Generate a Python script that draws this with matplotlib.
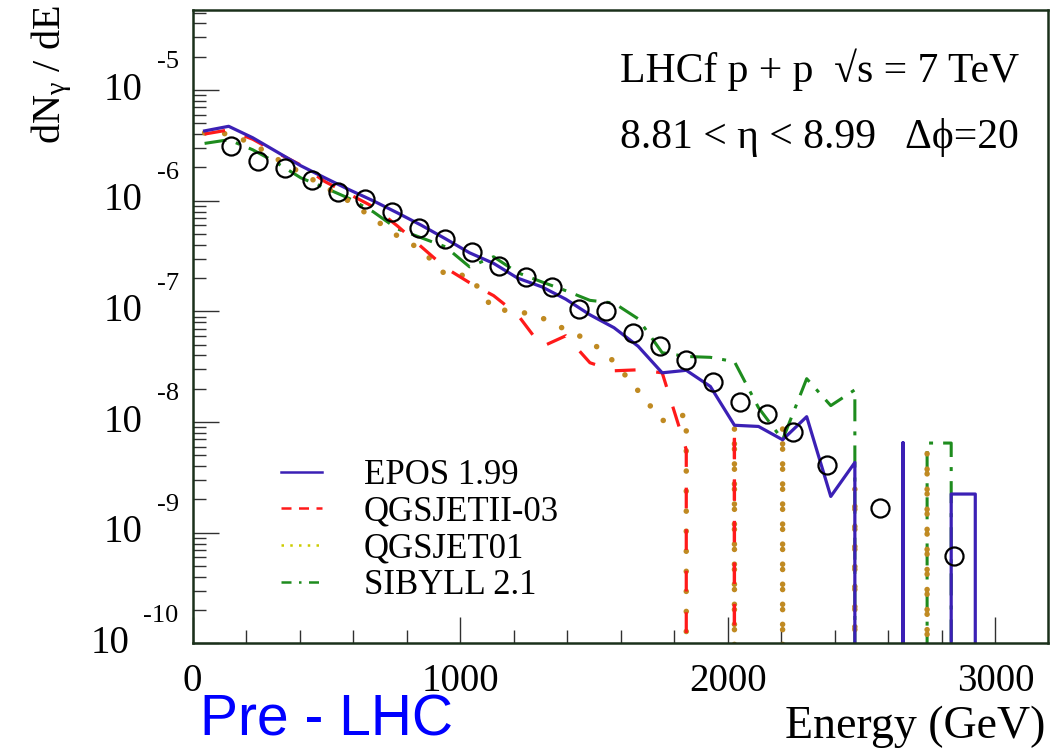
import numpy as np
import matplotlib
matplotlib.use("Agg")
import matplotlib.pyplot as plt
from matplotlib.lines import Line2D
from matplotlib.ticker import LogLocator, NullFormatter, MultipleLocator

plt.rcParams['font.family'] = ['Liberation Serif', 'DejaVu Serif']
plt.rcParams['mathtext.fontset'] = 'custom'
plt.rcParams['mathtext.rm'] = 'Liberation Serif'
plt.rcParams['mathtext.it'] = 'Liberation Serif:italic'

# LHCf measurement (open circles)
data_energy = [145, 245, 345, 445, 545, 645, 745, 845, 945, 1045, 1145, 1245,
               1345, 1445, 1545, 1645, 1745, 1845, 1945, 2045, 2145, 2245,
               2370, 2570, 2845]
data_dnde = [3.10e-6, 2.31e-6, 1.97e-6, 1.55e-6, 1.19e-6, 1.04e-6, 7.91e-7,
             5.70e-7, 4.51e-7, 3.48e-7, 2.55e-7, 2.03e-7, 1.68e-7, 1.06e-7,
             1.00e-7, 6.38e-8, 4.83e-8, 3.66e-8, 2.29e-8, 1.52e-8, 1.18e-8,
             8.07e-9, 4.06e-9, 1.67e-9, 6.21e-10]

# model predictions, bin centres (0 = empty bin)
model_energy = [45, 135, 225, 315, 405, 495, 585, 675, 765, 855, 945, 1035,
                1125, 1215, 1305, 1395, 1485, 1575, 1665, 1755, 1845, 1935,
                2025, 2115, 2205, 2295, 2385, 2475, 2565, 2655, 2745, 2835,
                2925, 3015]
epos = [4.28e-6, 4.71e-6, 3.71e-6, 2.77e-6, 2.07e-6, 1.61e-6, 1.26e-6, 1.0e-6,
        7.79e-7, 6.01e-7, 4.54e-7, 3.39e-7, 2.72e-7, 2.0e-7, 1.67e-7, 1.29e-7,
        9.33e-8, 7.13e-8, 4.85e-8, 2.79e-8, 2.94e-8, 2.10e-8, 9.37e-9, 9.14e-9,
        6.93e-9, 1.12e-8, 2.13e-9, 4.32e-9, 0, 6.52e-9, 0, 2.24e-9, 2.24e-9, 0]
qgsjet2 = [4.01e-6, 4.37e-6, 3.60e-6, 2.72e-6, 2.10e-6, 1.49e-6, 1.15e-6,
           8.83e-7, 5.94e-7, 3.84e-7, 2.48e-7, 1.82e-7, 1.39e-7, 9.33e-8,
           4.80e-8, 6.03e-8, 3.44e-8, 2.91e-8, 2.97e-8, 2.79e-8, 5.63e-9, 0,
           8.89e-9, 0, 0, 0, 0, 0, 0, 0, 0, 0, 0, 0]
qgsjet01 = [4.11e-6, 4.03e-6, 3.27e-6, 2.39e-6, 1.79e-6, 1.34e-6, 9.9e-7,
            6.95e-7, 4.83e-7, 3.61e-7, 2.15e-7, 2.11e-7, 1.04e-7, 1.01e-7,
            8.77e-8, 6.84e-8, 5.43e-8, 3.52e-8, 1.92e-8, 1.03e-8, 1.17e-8, 0,
            9.14e-9, 0, 9.14e-9, 0, 0, 2.55e-9, 0, 0, 5.43e-9, 0, 0, 0]
sibyll = [3.30e-6, 3.56e-6, 2.89e-6, 2.20e-6, 1.61e-6, 1.31e-6, 1.05e-6,
          7.96e-7, 5.58e-7, 4.63e-7, 3.84e-7, 2.53e-7, 3.12e-7, 2.24e-7,
          1.85e-7, 1.54e-7, 1.26e-7, 1.19e-7, 8.59e-8, 4.24e-8, 3.92e-8,
          3.85e-8, 3.52e-8, 1.35e-8, 6.93e-9, 2.47e-8, 1.41e-8, 1.96e-8, 0, 0,
          6.47e-9, 6.47e-9, 0, 0]

model_names = ['EPOS 1.99', 'QGSJETII-03', 'QGSJET01', 'SIBYLL 2.1']
x_ticks = [0, 1000, 2000, 3000]
y_exponents = [-5, -6, -7, -8, -9, -10]

blue = '#3b20b5'
red = '#ff1a1a'
gold = '#c08a22'
green = '#1e8c1e'
frame = '#1a301a'

YMIN, YMAX = 1e-10, 5.3e-5


def with_drops(x, y, floor=1e-12):
    # empty bins -> line falls straight down to the bottom of the frame
    xs, ys = [], []
    n = len(x)
    for i in range(n):
        if y[i] <= 0:
            continue
        if i > 0 and y[i - 1] <= 0:
            xs.append(x[i]); ys.append(floor)
        xs.append(x[i]); ys.append(y[i])
        if i < n - 1 and y[i + 1] <= 0:
            xs.append(x[i]); ys.append(floor)
            xs.append(np.nan); ys.append(np.nan)
    return xs, ys


fig = plt.figure(figsize=(10.51, 7.49), dpi=100)
ax = fig.add_axes([0.1832, 0.1409, 0.8135, 0.8458])

x, y = with_drops(model_energy, sibyll)
ax.plot(x, y, color=green, lw=2.2, dashes=(7.2, 3.3, 1.3, 3.3))
x, y = with_drops(model_energy, qgsjet01)
ax.plot(x, y, color=gold, lw=4.0, dashes=(0.01, 3.6), dash_capstyle='round')
x, y = with_drops(model_energy, qgsjet2)
ax.plot(x, y, color=red, lw=2.3, dashes=(6.5, 6.5))
x, y = with_drops(model_energy, epos)
ax.plot(x, y, color=blue, lw=2.3)

ax.plot(data_energy, data_dnde, 'o', ms=13, mfc='none', mec='black', mew=1.6,
        zorder=5)

ax.set_yscale('log')
ax.set_xlim(0, 3195)
ax.set_ylim(YMIN, YMAX)

ax.set_xticks(x_ticks)
ax.set_xticklabels([str(v) for v in x_ticks], fontsize=28)
ax.xaxis.set_minor_locator(MultipleLocator(200))
ax.yaxis.set_major_locator(LogLocator(base=10, numticks=20))
ax.yaxis.set_minor_locator(LogLocator(base=10, subs=np.arange(2, 10), numticks=100))
ax.yaxis.set_minor_formatter(NullFormatter())
ax.set_yticklabels([])
ax.tick_params(which='both', direction='in', top=False, right=False,
               color='#303030', width=1.0)
ax.tick_params(which='major', length=19)
ax.tick_params(which='minor', length=9.5)
ax.tick_params(axis='x', pad=14)
for sp in ax.spines.values():
    sp.set_color(frame)
    sp.set_linewidth(1.8)

# ROOT-like 10^n labels: exponent next to the axis, "10" to its left
for n in y_exponents:
    e = ax.annotate(str(n), xy=(0, 10.0 ** n), xycoords=ax.get_yaxis_transform(),
                    xytext=(-10, 20), textcoords='offset points',
                    ha='right', va='center', fontsize=19)
    ax.annotate('10', xy=(0, 0.5), xycoords=e, xytext=(-10, -20),
                textcoords='offset points', ha='right', va='center', fontsize=28)

fig.text(30 / 1051, 1 - 5 / 749, r'dN$_{\mathregular{\gamma}}$ / dE',
         rotation=90, ha='left', va='top', fontsize=29)
fig.text(1045 / 1051, 11 / 749, 'Energy (GeV)', ha='right', va='baseline',
         fontsize=33)

ax.text(0.967, 0.886, 'LHCf p + p  \u221as = 7 TeV', transform=ax.transAxes,
        ha='right', va='baseline', fontsize=30)
ax.text(0.967, 0.782, '8.81 < \u03b7 < 8.99   \u0394\u03d5=20',
        transform=ax.transAxes, ha='right', va='baseline', fontsize=30)

handles = [
    Line2D([], [], color=blue, lw=1.8),
    Line2D([], [], color=red, lw=1.8, dashes=(4, 3)),
    Line2D([], [], color='#cccc00', lw=1.8, dashes=(1, 2.5)),
    Line2D([], [], color=green, lw=1.8, dashes=(4, 3, 1, 3)),
]
ax.legend(handles, model_names, loc='center left', bbox_to_anchor=(0.103, 0.1785),
          frameon=False, fontsize=25, handlelength=1.2, handletextpad=1.2,
          borderpad=0, borderaxespad=0, labelspacing=0.11)

fig.text(200 / 1051, 2 / 749, 'Pre - LHC', color='#0000ff', fontsize=41,
         family=['Liberation Sans', 'DejaVu Sans'], ha='left', va='bottom')

fig.savefig('out.png', dpi=100)
